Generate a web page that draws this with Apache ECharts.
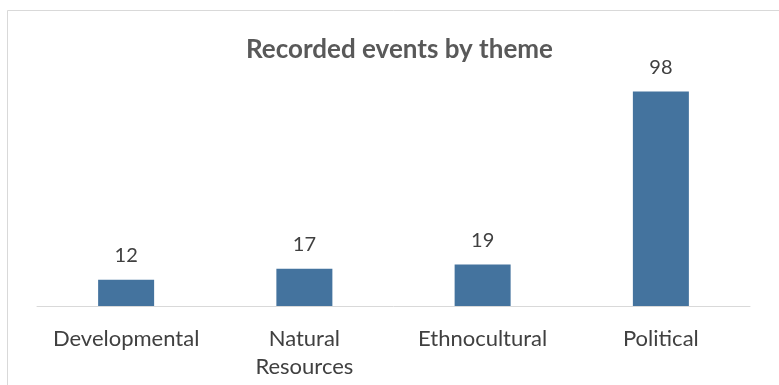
<!DOCTYPE html>
<html><head><meta charset="utf-8">
<script src="https://cdn.jsdelivr.net/npm/echarts@6/dist/echarts.min.js"></script>
<style>html,body{margin:0;padding:0;background:#fff}#c{width:779px;height:385px}</style>
</head><body><div id="c"></div>
<script>
const categories = ['Developmental', 'Natural\nResources', 'Ethnocultural', 'Political'];
const values = [12, 17, 19, 98];
const titleText = 'Recorded events by theme';

const FONT = "Lato, 'Open Sans', sans-serif";
const chart = echarts.init(document.getElementById('c'));
chart.setOption({
  animation: false,
  backgroundColor: '#fff',
  title: {
    text: titleText, left: 241, top: 32,
    textStyle: {fontFamily: FONT, fontSize: 26, fontWeight: 'bold', color: '#595959'}
  },
  graphic: [{type: 'rect', shape: {x: 7.5, y: 10.5, width: 800, height: 400},
    style: {fill: 'none', stroke: '#d9d9d9', lineWidth: 1}}],
  grid: {left: 37, right: 29, top: 87, bottom: 79},
  xAxis: {
    type: 'category', data: categories,
    axisLine: {lineStyle: {color: '#d9d9d9', width: 1}},
    axisTick: {show: false},
    axisLabel: {fontFamily: FONT, fontSize: 22, color: '#404040', margin: 19, lineHeight: 28, interval: 0}
  },
  yAxis: {type: 'value', min: 0, max: 100, show: false, splitLine: {show: false}},
  series: [{
    type: 'bar', data: values, barWidth: 56,
    itemStyle: {color: '#44739e'},
    label: {show: true, position: 'top', distance: 14, fontFamily: FONT, fontSize: 20, color: '#404040'}
  }]
});
</script></body></html>
